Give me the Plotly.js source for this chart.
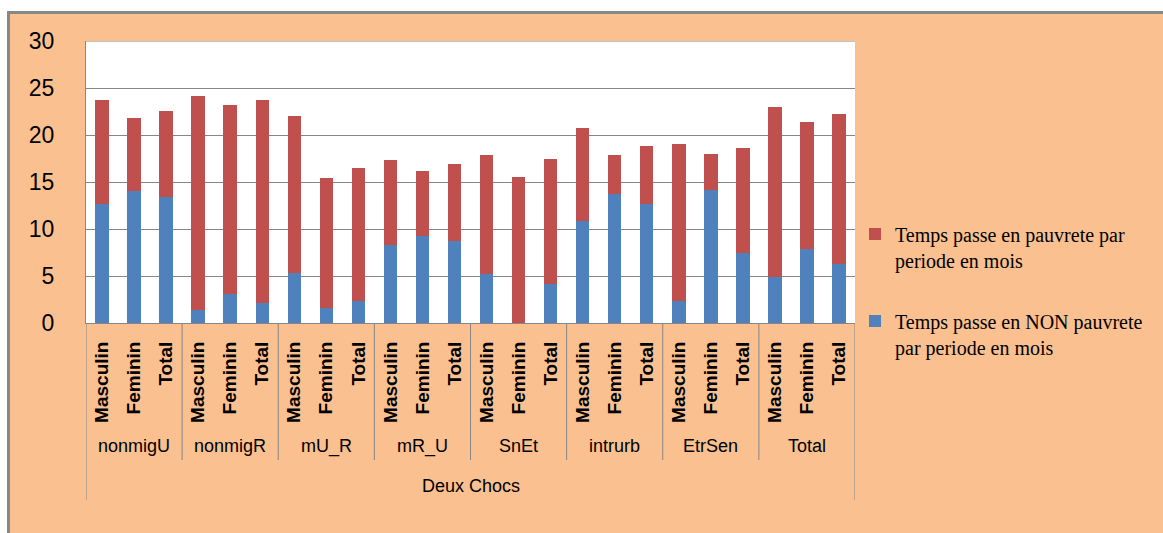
<!DOCTYPE html>
<html>
<head>
<meta charset="utf-8">
<script src="https://cdn.plot.ly/plotly-3.0.1.min.js"></script>
<style>
  html, body { margin: 0; padding: 0; background: #ffffff; overflow: hidden; }
  #frame { position: absolute; left: 7px; top: 11px; width: 1156px; height: 522px;
           border-top: 3px solid #888888; border-left: 3px solid #888888; background: #FAC090; }
  #chart { width: 1153px; height: 519px; }
</style>
</head>
<body>
<div id="frame"><div id="chart"></div></div>
<script>
// Data
const groups = ['nonmigU', 'nonmigR', 'mU_R', 'mR_U', 'SnEt', 'intrurb', 'EtrSen', 'Total'];
const sexes = ['Masculin', 'Feminin', 'Total'];
const outerLabel = 'Deux Chocs';
const nonPauvrete = [12.7, 14.0, 13.4, 1.4, 3.1, 2.1, 5.3, 1.6, 2.3, 8.3, 9.3, 8.7,
                     5.2, 0.0, 4.2, 10.9, 13.7, 12.7, 2.3, 14.2, 7.4, 4.9, 7.9, 6.3];
const pauvrete = [11.0, 7.8, 9.2, 22.7, 20.1, 21.6, 16.7, 13.8, 14.2, 9.0, 6.9, 8.2,
                  12.7, 15.5, 13.2, 9.8, 4.2, 6.1, 16.7, 3.8, 11.2, 18.1, 13.5, 15.9];
const namePauv = 'Temps passe en pauvrete par<br>periode en mois';
const nameNonPauv = 'Temps passe en NON pauvrete<br>par periode en mois';

const xIdx = [];
const tickText = [];
groups.forEach((g, gi) => sexes.forEach((s, si) => { xIdx.push(gi * sexes.length + si); tickText.push(s); }));
const n = xIdx.length;

const traces = [
  { type: 'bar', x: xIdx, y: nonPauvrete, name: nameNonPauv, marker: { color: '#4F81BD' },
    legendgroup: 'b', legendrank: 2, hoverinfo: 'y' },
  { type: 'bar', x: xIdx, y: pauvrete, name: namePauv, marker: { color: '#C0504D' },
    legendgroup: 'a', legendrank: 1, hoverinfo: 'y' }
];

const grey = '#868686';
const shapes = [];
shapes.push({ type: 'line', xref: 'paper', yref: 'y', x0: 0, x1: 1, y0: 30, y1: 30,
              line: { color: grey, width: 1 } });
for (let g = 1; g < groups.length; g++) {
  const xv = g * sexes.length - 0.5;
  shapes.push({ type: 'line', xref: 'x', yref: 'paper', ysizemode: 'pixel', yanchor: 0,
                x0: xv, x1: xv, y0: 0, y1: -137, line: { color: grey, width: 1 } });
}
[-0.5, n - 0.5].forEach(xv => shapes.push({ type: 'line', xref: 'x', yref: 'paper', ysizemode: 'pixel', yanchor: 0,
                x0: xv, x1: xv, y0: 0, y1: -177, line: { color: grey, width: 1 } }));

const annotations = groups.map((g, gi) => ({
  text: g, xref: 'x', yref: 'paper', x: gi * sexes.length + 1, y: 0, yshift: -123,
  showarrow: false, xanchor: 'center', yanchor: 'middle',
  font: { family: 'Liberation Sans Narrow, Liberation Sans, sans-serif', size: 18, color: '#000' }
}));
annotations.push({ text: outerLabel, xref: 'paper', yref: 'paper', x: 0.5, y: 0, yshift: -163,
  showarrow: false, xanchor: 'center', yanchor: 'middle',
  font: { family: 'Liberation Sans Narrow, Liberation Sans, sans-serif', size: 18, color: '#000' } });

const layout = {
  width: 1153, height: 519,
  margin: { l: 76, r: 308, t: 27, b: 210 },
  paper_bgcolor: '#FAC090', plot_bgcolor: '#FFFFFF',
  barmode: 'stack', bargap: 0.58,
  showlegend: true,
  legend: { x: 1.0, xanchor: 'left', y: 0.385, yanchor: 'top', traceorder: 'grouped',
            tracegroupgap: 32, valign: 'top', bgcolor: 'rgba(0,0,0,0)',
            font: { family: 'Liberation Serif, serif', size: 20, color: '#000' } },
  xaxis: { range: [-0.5, n - 0.5], tickvals: xIdx, ticktext: tickText, tickangle: -90,
           showgrid: false, zeroline: false, showline: true, linecolor: grey, linewidth: 1,
           ticks: '', ticklabelstandoff: 10,
           tickfont: { family: 'Liberation Sans Narrow, Liberation Sans, sans-serif', size: 19, color: '#000', weight: 'bold' } },
  yaxis: { range: [0, 30], dtick: 5, showgrid: true, gridcolor: grey, gridwidth: 1,
           zeroline: false, showline: true, linecolor: grey, linewidth: 1, ticks: '',
           ticklabelstandoff: 26,
           tickfont: { family: 'Liberation Sans, sans-serif', size: 23, color: '#000' } },
  shapes: shapes, annotations: annotations,
  font: { family: 'Liberation Sans, sans-serif' }
};

Plotly.newPlot('chart', traces, layout, { displayModeBar: false, staticPlot: true });
</script>
</body>
</html>
